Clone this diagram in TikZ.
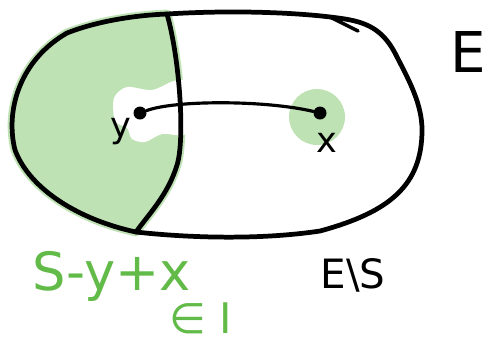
\documentclass[tikz,border=0pt]{standalone}
\usepackage{fontspec}
\setmainfont{DejaVu Sans}
\usetikzlibrary{positioning}
\definecolor{blobgreen}{RGB}{190,226,180}
\definecolor{inkgreen}{RGB}{98,187,72}

\begin{document}
\begin{tikzpicture}[
  x=0.02cm, y=-0.02cm,
  outline/.style={draw=black, line width=2.7pt, line cap=round, line join=round},
  link/.style={draw=black, line width=1.8pt, line cap=round},
  dot/.style={circle, fill=black, inner sep=0pt, minimum size=0.26cm},
  patch/.style={fill=blobgreen, draw=blobgreen, line width=5pt, line join=round},
  lbl/.style={inner sep=0pt, font=\fontsize{20}{20}\selectfont},
  note/.style={inner sep=0pt, text=inkgreen, font=\fontsize{30}{30}\selectfont}
]
\useasboundingbox (0,0) rectangle (489,343);
\coordinate (top) at (167,14);
\coordinate (bot) at (136,232);
% shaded part S
\path[patch] (top) .. controls (180,60) and (185,140) .. (177,165) .. controls (168,195) and (148,215) .. (bot)
  .. controls (80,220) and (30,190) .. (15,150)
  .. controls (5,110) and (20,60) .. (67,33)
  .. controls (100,20) and (140,15) .. cycle;
\fill[white] plot[smooth cycle] coordinates {(114,98) (127,87) (152,90) (174,81) (188,84) (188,132) (162,134) (145,142) (132,139) (127,128) (115,121)};
\fill[blobgreen] (317,117) circle[radius=0.56cm];
% E and the cut
\draw[outline] (top) .. controls (230,10) and (300,12) .. (345,19)
  .. controls (370,23) and (385,32) .. (397,57)
  .. controls (410,82) and (422,105) .. (422,130)
  .. controls (422,185) and (390,212) .. (320,231)
  .. controls (260,240) and (190,238) .. (bot)
  .. controls (80,220) and (30,190) .. (15,150)
  .. controls (5,110) and (20,60) .. (67,33)
  .. controls (100,20) and (140,15) .. cycle;
\draw[outline] (top) .. controls (180,60) and (185,140) .. (177,165) .. controls (168,195) and (148,215) .. (bot);
\coordinate (tick1) at (330,17);
\coordinate (tick2) at (358,31);
\draw[outline, line width=2pt] (tick1) -- (tick2);
% points
\node[dot] (y) at (140,113) {};
\node[dot] (x) at (320,113) {};
\draw[link] (y) .. controls (175,100) and (265,100) .. (x);
\node[lbl] (ylbl) at (121,132) {y};
\node[lbl] (xlbl) at (327,143) {x};
\node[inner sep=0pt, font=\fontsize{32}{32}\selectfont] (elbl) at (468,52) {E};
\node[inner sep=0pt, font=\fontsize{23}{23}\selectfont] (comp) at (353,275) {E\textbackslash S};
\node[note] (set) at (112,276) {S-y+x};
\node[note, font=\fontsize{24}{24}\selectfont] (inI) at (201,318) {∈ I};
\end{tikzpicture}
\end{document}
